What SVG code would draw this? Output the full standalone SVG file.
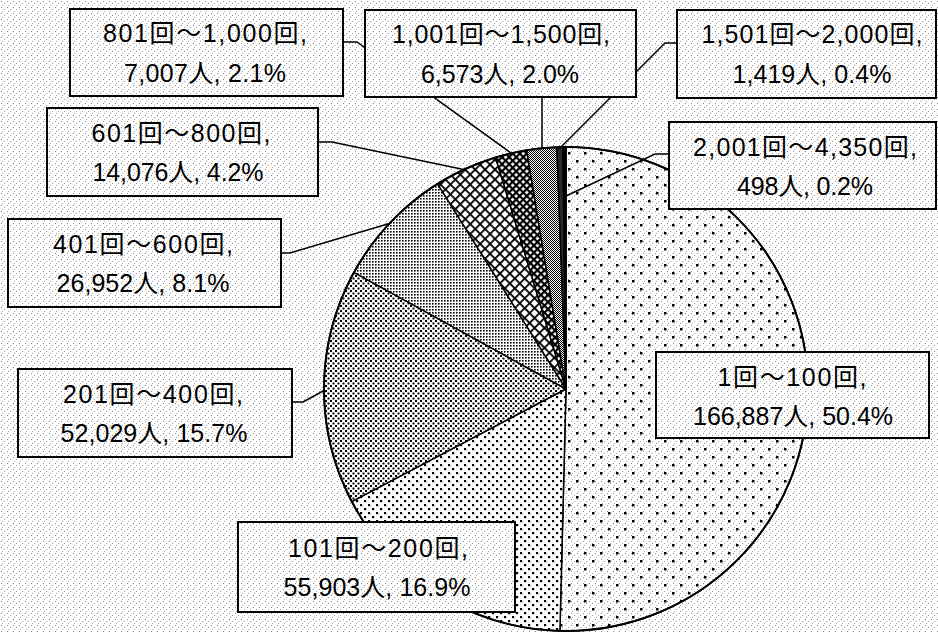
<svg xmlns="http://www.w3.org/2000/svg" width="938" height="633" viewBox="0 0 938 633">
<style>
.box{fill:url(#bg);stroke:#000;stroke-width:2}
.t{font-family:"Liberation Sans","Noto Sans CJK JP","Noto Sans CJK SC",sans-serif;font-size:25px;fill:#000;text-anchor:middle}
.lead{fill:none;stroke:#000;stroke-width:1.5}
.sl{stroke:#000;stroke-width:1.5;stroke-linejoin:round}
</style>
<defs>
<pattern id="bg" width="6" height="6" patternUnits="userSpaceOnUse">
<rect width="6" height="6" fill="#fff"/>
<rect x="1" y="1" width="1" height="1" fill="#8a8a8a"/>
<rect x="4" y="3" width="1" height="1" fill="#9a9a9a"/>
<rect x="2" y="5" width="1" height="1" fill="#a5a5a5"/>
</pattern>
<pattern id="p1" width="16" height="16" patternUnits="userSpaceOnUse">
<rect x="0" y="0" width="2.5" height="2.5" fill="#000"/>
<rect x="8" y="8" width="2.5" height="2.5" fill="#000"/>
</pattern>
<pattern id="p2" width="8" height="8" patternUnits="userSpaceOnUse">
<rect width="8" height="8" fill="#fff"/>
<rect x="0" y="0" width="2.2" height="2.2" fill="#000"/>
<rect x="4" y="4" width="2.2" height="2.2" fill="#000"/>
</pattern>
<pattern id="p3" width="5" height="5" patternUnits="userSpaceOnUse">
<rect width="5" height="5" fill="#fff"/>
<rect x="0" y="0" width="2" height="2" fill="#000"/>
<rect x="2.5" y="2.5" width="2" height="2" fill="#000"/>
</pattern>
<pattern id="p4" width="3" height="3" patternUnits="userSpaceOnUse">
<rect width="3" height="3" fill="#fff"/>
<rect x="0" y="0" width="1.6" height="1.6" fill="#000"/>
</pattern>
<pattern id="p5" width="7" height="7" patternUnits="userSpaceOnUse" patternTransform="rotate(45)">
<rect width="7" height="7" fill="#fff"/>
<rect x="0" y="0" width="1.8" height="7" fill="#000"/>
<rect x="0" y="0" width="7" height="1.8" fill="#000"/>
</pattern>
<pattern id="p6" width="5" height="5" patternUnits="userSpaceOnUse" patternTransform="rotate(45)">
<rect width="5" height="5" fill="#fff"/>
<rect x="0" y="0" width="2.2" height="5" fill="#000"/>
<rect x="0" y="0" width="5" height="2.2" fill="#000"/>
</pattern>
<pattern id="p7" width="2" height="2" patternUnits="userSpaceOnUse">
<rect width="2" height="2" fill="#fff"/>
<rect x="0" y="0" width="1" height="1" fill="#000"/>
<rect x="1" y="1" width="1" height="1" fill="#000"/>
</pattern>
</defs>
<rect width="938" height="633" fill="url(#bg)"/>
<g id="pie">
<path class="sl" fill="url(#p1)" d="M566,389 L566,147 A242,242 0 1 1 559.92,630.92 Z"/>
<path class="sl" fill="url(#p2)" d="M566,389 L559.92,630.92 A242,242 0 0 1 351.75,501.55 Z"/>
<path class="sl" fill="url(#p3)" d="M566,389 L351.75,501.55 A242,242 0 0 1 353.93,272.42 Z"/>
<path class="sl" fill="url(#p4)" d="M566,389 L353.93,272.42 A242,242 0 0 1 437.61,183.86 Z"/>
<path class="sl" fill="url(#p5)" d="M566,389 L437.61,183.86 A242,242 0 0 1 495.57,157.47 Z"/>
<path class="sl" fill="url(#p6)" d="M566,389 L495.57,157.47 A242,242 0 0 1 526.64,150.22 Z"/>
<path class="sl" fill="url(#p7)" d="M566,389 L526.64,150.22 A242,242 0 0 1 556.88,147.17 Z"/>
<path class="sl" fill="#2a2a2a" d="M566,389 L556.88,147.17 A242,242 0 0 1 562.96,147.02 Z"/>
<path class="sl" fill="#000" d="M566,389 L562.96,147.02 A242,242 0 0 1 566,147 Z"/>
<circle cx="566" cy="389" r="242" fill="none" stroke="#000" stroke-width="2"/>
</g>
<g id="connectors">
<polyline class="lead" points="343,42 357,42 511,153"/>
<polyline class="lead" points="542,97 542,149"/>
<polyline class="lead" points="677,43 665,43 560,148"/>
<polyline class="lead" points="669,154 655,154 566,196"/>
<polyline class="lead" points="318,142 332,142 466,170"/>
<polyline class="lead" points="281,253 290,253 391,223"/>
<polyline class="lead" points="292,402 303,402 325,390"/>
</g>
<g id="n801">
<rect class="box" x="70" y="9" width="273" height="87"/>
<text class="t" x="205" y="42" textLength="204" lengthAdjust="spacing">801回～1,000回,</text>
<text class="t" x="205" y="82" textLength="162" lengthAdjust="spacing">7,007人, 2.1%</text>
</g>
<g id="n1001">
<rect class="box" x="365" y="10" width="271" height="87"/>
<text class="t" x="501" y="43" textLength="218" lengthAdjust="spacing">1,001回～1,500回,</text>
<text class="t" x="500" y="83" textLength="158" lengthAdjust="spacing">6,573人, 2.0%</text>
</g>
<g id="n1501">
<rect class="box" x="677" y="10" width="259" height="88"/>
<text class="t" x="812" y="43" textLength="221" lengthAdjust="spacing">1,501回～2,000回,</text>
<text class="t" x="812" y="83" textLength="159" lengthAdjust="spacing">1,419人, 0.4%</text>
</g>
<g id="n2001">
<rect class="box" x="669" y="122" width="267" height="87"/>
<text class="t" x="805" y="156" textLength="224" lengthAdjust="spacing">2,001回～4,350回,</text>
<text class="t" x="805" y="195" textLength="136" lengthAdjust="spacing">498人, 0.2%</text>
</g>
<g id="n601">
<rect class="box" x="47" y="108" width="271" height="88"/>
<text class="t" x="181" y="142" textLength="179" lengthAdjust="spacing">601回～800回,</text>
<text class="t" x="178" y="181" textLength="171" lengthAdjust="spacing">14,076人, 4.2%</text>
</g>
<g id="n401">
<rect class="box" x="8" y="219" width="273" height="88"/>
<text class="t" x="143" y="253" textLength="180" lengthAdjust="spacing">401回～600回,</text>
<text class="t" x="143" y="292" textLength="173" lengthAdjust="spacing">26,952人, 8.1%</text>
</g>
<g id="n201">
<rect class="box" x="18" y="369" width="274" height="88"/>
<text class="t" x="153" y="403" textLength="180" lengthAdjust="spacing">201回～400回,</text>
<text class="t" x="154" y="442" textLength="187" lengthAdjust="spacing">52,029人, 15.7%</text>
</g>
<g id="n1">
<rect class="box" x="656" y="352" width="273" height="86"/>
<text class="t" x="792" y="386" textLength="149" lengthAdjust="spacing">1回～100回,</text>
<text class="t" x="793" y="425" textLength="200" lengthAdjust="spacing">166,887人, 50.4%</text>
</g>
<g id="n101">
<rect class="box" x="238" y="522" width="277" height="90"/>
<text class="t" x="378" y="557" textLength="180" lengthAdjust="spacing">101回～200回,</text>
<text class="t" x="377" y="596" textLength="187" lengthAdjust="spacing">55,903人, 16.9%</text>
</g>
</svg>
